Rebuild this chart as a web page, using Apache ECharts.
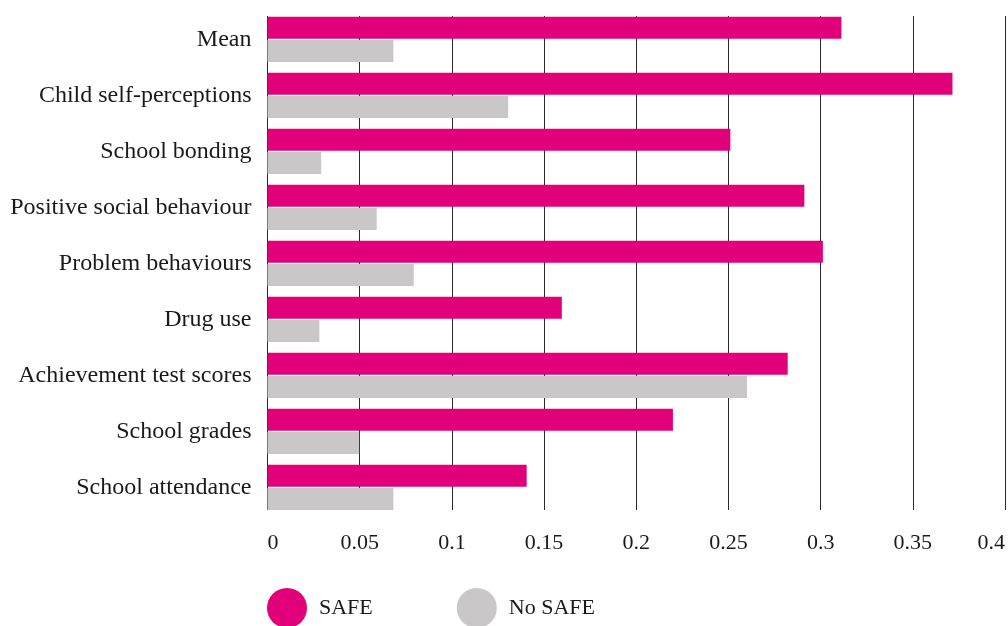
<!DOCTYPE html>
<html>
<head>
<meta charset="utf-8">
<script src="https://cdn.jsdelivr.net/npm/echarts@6/dist/echarts.min.js"></script>
<style>
html,body{margin:0;padding:0;background:#fff;}
#chart{width:1008px;height:626px;}
</style>
</head>
<body>
<div id="chart"></div>
<script>
var categories = ["Mean", "Child self-perceptions", "School bonding", "Positive social behaviour", "Problem behaviours", "Drug use", "Achievement test scores", "School grades", "School attendance"];
var safeValues = [0.31, 0.37, 0.25, 0.29, 0.30, 0.159, 0.281, 0.219, 0.14];
var noSafeValues = [0.068, 0.13, 0.029, 0.059, 0.079, 0.028, 0.259, 0.0495, 0.068];
var seriesNames = ["SAFE", "No SAFE"];
var axisMin = 0, axisMax = 0.4, axisStep = 0.05;

var FONT = "'Liberation Serif', 'DejaVu Serif', serif";
var chart = echarts.init(document.getElementById('chart'), null, {renderer: 'canvas'});
chart.setOption({
  animation: false,
  backgroundColor: '#ffffff',
  textStyle: {fontFamily: FONT},
  grid: [
    {left: 267.5, right: 0, top: 11.35, bottom: 110.65, containLabel: false},
    {left: 267.5, right: 0, top: 16, bottom: 116, containLabel: false}
  ],
  legend: {
    data: seriesNames,
    left: 262,
    top: 583,
    icon: 'circle',
    itemWidth: 54,
    itemHeight: 40,
    itemGap: 84,
    textStyle: {fontFamily: FONT, fontSize: 22, color: '#1a1a1a'}
  },
  xAxis: [
    {type: 'value', gridIndex: 0, min: axisMin, max: axisMax, interval: axisStep,
     show: false},
    {type: 'value', gridIndex: 1, min: axisMin, max: axisMax, interval: axisStep,
     axisLine: {show: false}, axisTick: {show: false},
     splitLine: {show: true, lineStyle: {color: '#2a2a2a', width: 1}},
     axisLabel: {fontFamily: FONT, fontSize: 22, color: '#1a1a1a', margin: 22,
       alignMinLabel: 'left', alignMaxLabel: 'right'}}
  ],
  yAxis: [
    {type: 'category', gridIndex: 0, data: categories, inverse: true,
     axisLine: {show: false}, axisTick: {show: false}, splitLine: {show: false},
     axisLabel: {fontFamily: FONT, fontSize: 24, color: '#1a1a1a', margin: 16}},
    {type: 'category', gridIndex: 1, data: categories, inverse: true, show: false}
  ],
  series: [
    {name: seriesNames[0], type: 'bar', xAxisIndex: 0, yAxisIndex: 0, data: safeValues,
     itemStyle: {color: '#E2007A'}, barGap: '5%', barCategoryGap: '19%', z: 3},
    {name: seriesNames[1], type: 'bar', xAxisIndex: 0, yAxisIndex: 0, data: noSafeValues,
     itemStyle: {color: '#C9C7C8'}, barGap: '5%', barCategoryGap: '19%', z: 3}
  ]
});
</script>
</body>
</html>
